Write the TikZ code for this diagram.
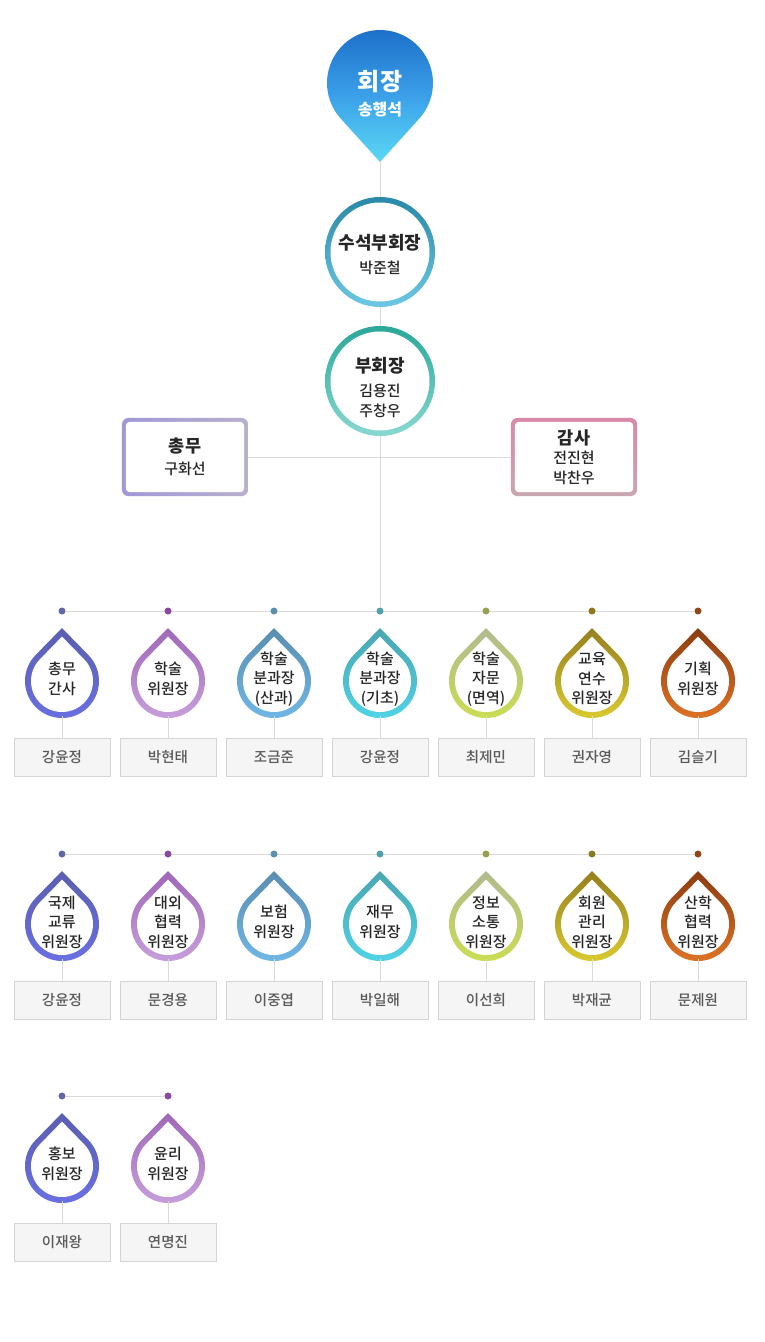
\documentclass[tikz,border=0pt]{standalone}
\usepackage{fontspec}
\setmainfont{Noto Sans CJK KR}
\newfontfamily\medfont{Noto Sans CJK KR Medium}
\usepackage{tikz}
\usetikzlibrary{shapes,arrows,positioning}
\pgfdeclarelayer{back}
\pgfsetlayers{back,main}

\definecolor{linegray}{HTML}{DADADA}
\definecolor{boxline}{HTML}{D4D4D4}
\definecolor{boxfill}{HTML}{F5F5F5}
\definecolor{pintop}{HTML}{1A6CC6}\definecolor{pinmid}{HTML}{3A9EE8}\definecolor{pinbot}{HTML}{5AD8F4}
\definecolor{svptop}{HTML}{2A88A8}\definecolor{svpmid}{HTML}{2AB8E0}\definecolor{svpbot}{HTML}{6CC8E4}
\definecolor{vptop}{HTML}{2AA89A}\definecolor{vpmid}{HTML}{3ED8C0}\definecolor{vpbot}{HTML}{88D8D0}
\definecolor{genleft}{HTML}{A098D8}\definecolor{genright}{HTML}{B8B0CC}
\definecolor{audtop}{HTML}{D888A8}\definecolor{audbot}{HTML}{C8A8B0}
\definecolor{c1top}{HTML}{5A5FB0}\definecolor{c1mid}{HTML}{A3A6D2}\definecolor{c1bot}{HTML}{6A70E2}\definecolor{c1dot}{HTML}{6068A8}
\definecolor{c2top}{HTML}{A068B8}\definecolor{c2mid}{HTML}{B05CCC}\definecolor{c2bot}{HTML}{C8A0DC}\definecolor{c2dot}{HTML}{8A48A0}
\definecolor{c3top}{HTML}{5A8EB0}\definecolor{c3mid}{HTML}{9CBAD2}\definecolor{c3bot}{HTML}{70B8E8}\definecolor{c3dot}{HTML}{5A90B0}
\definecolor{c4top}{HTML}{4AA6B0}\definecolor{c4mid}{HTML}{A2CDD5}\definecolor{c4bot}{HTML}{50D4E8}\definecolor{c4dot}{HTML}{50A0B0}
\definecolor{c5top}{HTML}{B0BA90}\definecolor{c5mid}{HTML}{B8CA5C}\definecolor{c5bot}{HTML}{CCDE50}\definecolor{c5dot}{HTML}{98A050}
\definecolor{c6top}{HTML}{948020}\definecolor{c6mid}{HTML}{C6C07E}\definecolor{c6bot}{HTML}{DCCC30}\definecolor{c6dot}{HTML}{8A7A20}
\definecolor{c7top}{HTML}{8C3C12}\definecolor{c7mid}{HTML}{C8A08A}\definecolor{c7bot}{HTML}{E07424}\definecolor{c7dot}{HTML}{904818}

\tikzstyle{conn} = [draw=linegray,line width=1pt]
\tikzstyle{ring} = [circle,minimum size=110pt,inner sep=0pt,align=center,text=black!85,font=\medfont\fontsize{15}{20}\selectfont]
\tikzstyle{board} = [rectangle,minimum width=126pt,minimum height=78pt,inner sep=0pt,align=center,text=black!85,font=\medfont\fontsize{15}{20}\selectfont]
\tikzstyle{drop} = [circle,minimum size=74pt,inner sep=0pt,align=center,text=black!85,font=\medfont\fontsize{15}{19.5}\selectfont]
\tikzstyle{namebox} = [rectangle,draw=boxline,fill=boxfill,minimum width=96pt,minimum height=38pt,inner sep=0pt,text=black!65,font=\medfont\fontsize{14.5}{16}\selectfont]
\tikzstyle{dot} = [circle,inner sep=0pt,minimum size=7pt]

\begin{document}
\begin{tikzpicture}[x=1pt,y=-1pt]
	\useasboundingbox (0,0) rectangle (764,1342);

	%top
	\node (pres) [align=center,text=white] at (380,94) {{\fontsize{24}{28}\selectfont\bfseries 회장}\\[8pt]{\fontsize{16}{20}\selectfont\bfseries 송행석}};
	\coordinate (prestip) at (380,162);
	\node (svp) [ring] at (380,252) {\rule{0pt}{21pt}{\fontsize{18}{22}\selectfont\bfseries 수석부회장}\\[4pt]박준철};
	\node (vp) [ring] at (380,381) {\rule{0pt}{28pt}{\fontsize{18}{22}\selectfont\bfseries 부회장}\\[4pt]김용진\\주창우};
	\node (gen) [board] at (185,457) {{\fontsize{17.5}{22}\selectfont\bfseries 총무}\\[2pt]구화선};
	\node (aud) [board] at (574,457) {{\fontsize{17.5}{22}\selectfont\bfseries 감사}\\[-1pt]전진현\\박찬우};

	\begin{pgfonlayer}{back}
		\fill [white] (0,0) rectangle (764,1342);
		\begin{scope}[shift={(380,83)}]
			\shade [top color=pintop,bottom color=pinbot,middle color=pinmid]
			(0,79) -- (42.1:53) arc[start angle=42.1,end angle=-222.1,radius=53] -- cycle;
		\end{scope}
		\shade [top color=svptop,middle color=svpmid,bottom color=svpbot] (svp.center) circle (55);
		\fill [white] (svp.center) circle (49.5);
		\shade [top color=vptop,middle color=vpmid,bottom color=vpbot] (vp.center) circle (55);
		\fill [white] (vp.center) circle (49.5);
		\shade [rounded corners=7pt,left color=genleft,right color=genright] (gen.south west) rectangle (gen.north east);
		\fill [white,rounded corners=4pt] ([xshift=4pt,yshift=4pt]gen.south west) rectangle ([xshift=-4pt,yshift=-4pt]gen.north east);
		\shade [rounded corners=7pt,top color=audtop,bottom color=audbot] (aud.south west) rectangle (aud.north east);
		\fill [white,rounded corners=4pt] ([xshift=4pt,yshift=4pt]aud.south west) rectangle ([xshift=-4pt,yshift=-4pt]aud.north east);
		\draw [conn] (prestip) -- (svp);
		\draw [conn] (svp) -- (vp);
		\draw [conn] (gen) -- (aud);
	\end{pgfonlayer}

	%committees
	\foreach \r/\i/\ttl/\nm in {
		1/1/{총무\\간사}/강윤정, 1/2/{학술\\위원장}/박현태, 1/3/{학술\\분과장\\(산과)}/조금준,
		1/4/{학술\\분과장\\(기초)}/강윤정, 1/5/{학술\\자문\\(면역)}/최제민, 1/6/{교육\\연수\\위원장}/권자영,
		1/7/{기획\\위원장}/김슬기,
		2/1/{국제\\교류\\위원장}/강윤정, 2/2/{대외\\협력\\위원장}/문경용, 2/3/{보험\\위원장}/이중엽,
		2/4/{재무\\위원장}/박일해, 2/5/{정보\\소통\\위원장}/이선희, 2/6/{회원\\관리\\위원장}/박재균,
		2/7/{산학\\협력\\위원장}/문제원,
		3/1/{홍보\\위원장}/이재왕, 3/2/{윤리\\위원장}/연명진}{
		\pgfmathsetmacro{\x}{62+106*(\i-1)}
		\pgfmathsetmacro{\y}{{611,854,1096}[\r-1]}
		\node (p-\r-\i) [dot,fill=c\i dot] at (\x,\y) {};
		\node (c-\r-\i) [drop] at (\x,\y+68) {\ttl};
		\node (n-\r-\i) [namebox] at (\x,\y+146) {\nm};
		\begin{pgfonlayer}{back}
			\begin{scope}[shift={(\x,\y+70)}]
				\shade [top color=c\i top,middle color=c\i mid,bottom color=c\i bot]
				(0,-53) -- (-44.3:37) arc[start angle=-44.3,end angle=224.3,radius=37] -- cycle;
				\fill [white] (0,-44.4) -- (-44.3:31) arc[start angle=-44.3,end angle=224.3,radius=31] -- cycle;
			\end{scope}
			\draw [conn] (c-\r-\i) -- (n-\r-\i);
		\end{pgfonlayer}
	}

	\begin{pgfonlayer}{back}
		\draw [conn] (vp) -- (p-1-4);
		\draw [conn] (p-1-1) -- (p-1-7);
		\draw [conn] (p-2-1) -- (p-2-7);
		\draw [conn] (p-3-1) -- (p-3-2);
	\end{pgfonlayer}
\end{tikzpicture}
\end{document}
